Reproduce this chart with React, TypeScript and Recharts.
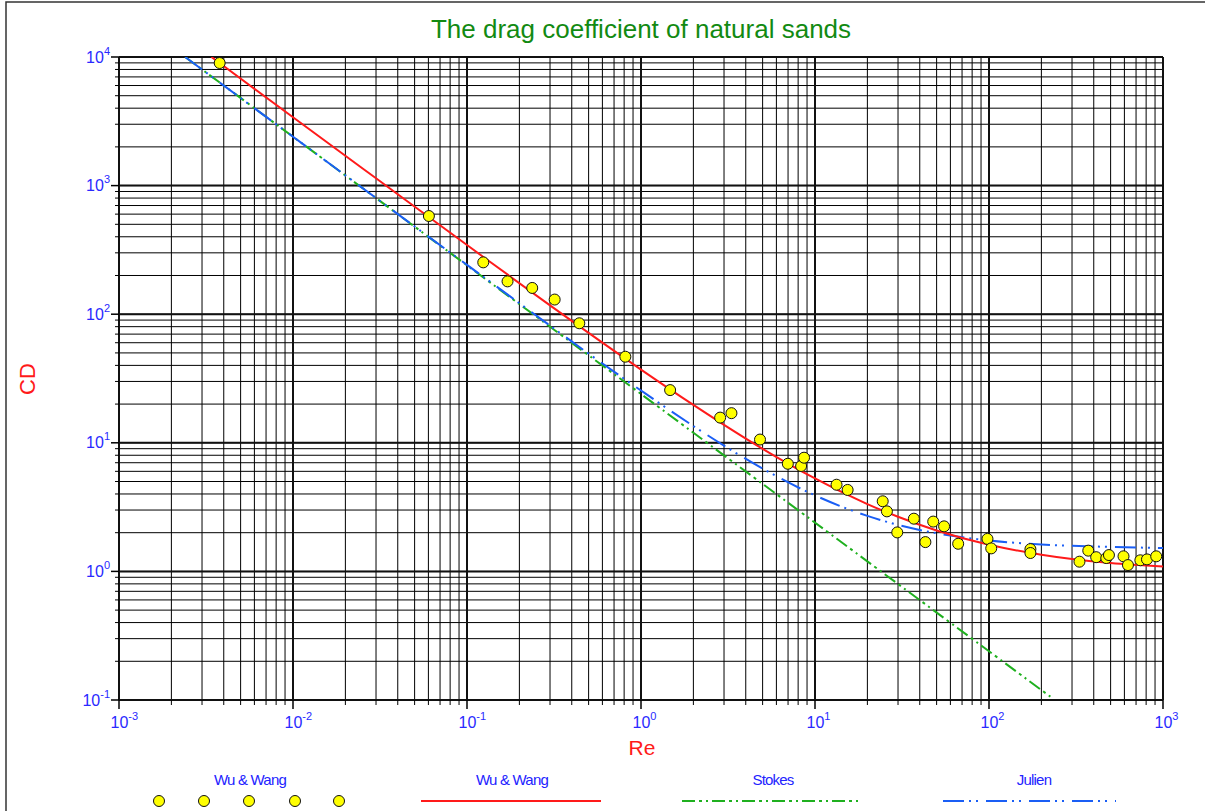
import {
  ComposedChart,
  Line,
  Scatter,
  XAxis,
  YAxis,
  CartesianGrid,
  ReferenceLine,
} from "recharts";

// measured points (Re, CD)
const measuredRe = [
  0.00379, 0.0604, 0.124, 0.171, 0.237, 0.319, 0.442, 0.813, 1.47, 2.85, 3.31,
  4.83, 6.98, 8.32, 8.65, 13.3, 15.4, 24.5, 25.9, 29.7, 37.0, 43.1, 47.8, 55.2,
  66.5, 98.0, 103, 173, 173, 331, 372, 413, 472, 489, 593, 629, 741, 809, 914,
];
const measuredCd = [
  8980, 580, 253, 180, 160, 130, 85, 46.7, 25.7, 15.7, 17.0, 10.6, 6.87, 6.6,
  7.66, 4.72, 4.3, 3.51, 2.93, 2.01, 2.57, 1.69, 2.44, 2.24, 1.64, 1.79, 1.51,
  1.49, 1.39, 1.19, 1.45, 1.29, 1.27, 1.34, 1.31, 1.12, 1.22, 1.24, 1.31,
];

// Wu & Wang curve
const wuRe = [0.0034, 0.01, 0.03, 0.1, 0.3, 1, 2, 3, 5, 10, 20, 30, 50, 100, 200, 300, 500, 1000];
const wuCd = [10000, 3400, 1140, 345, 117, 37.1, 19.7, 13.8, 8.98, 5.28, 3.34, 2.66, 2.08, 1.61, 1.35, 1.25, 1.16, 1.09];

// Stokes line
const stokesRe = [0.0024, 230];
const stokesCd = [10000, 0.104];

// Julien curve
const julienRe = [0.0024, 0.01, 0.1, 1, 2, 3, 5, 10, 20, 30, 50, 100, 200, 500, 1000];
const julienCd = [10000, 2400, 242, 25.5, 13.5, 9.5, 6.3, 3.9, 2.7, 2.3, 1.98, 1.74, 1.62, 1.55, 1.52];

const xDecades = [0.001, 0.01, 0.1, 1, 10, 100, 1000];
const yDecades = [0.1, 1, 10, 100, 1000, 10000];
const mantissas = [1, 2, 3, 4, 5, 6, 7, 8, 9];

const withMinors = (decades: number[]) =>
  decades
    .slice(0, -1)
    .flatMap((d) => mantissas.map((m) => m * d))
    .concat(decades[decades.length - 1]);

const xTicks = withMinors(xDecades);
const yTicks = withMinors(yDecades);

const zip = (re: number[], cd: number[]) => re.map((r, i) => ({ re: r, cd: cd[i] }));
const measured = zip(measuredRe, measuredCd);
const wuWang = zip(wuRe, wuCd);
const stokes = zip(stokesRe, stokesCd);
const julien = zip(julienRe, julienCd);

const FONT = "Arial, 'Liberation Sans', sans-serif";
const RED = "#ff1a1a";
const GREEN = "#1fb01f";
const BLUE = "#1a5ef5";
const TICK_BLUE = "#2a2aff";
const STOKES_DASH = "13 4 3 4 2 4";
const JULIEN_DASH = "21 5 2 5 2 8";

const isDecade = (v: number) => {
  const l = Math.log10(v);
  return Math.abs(l - Math.round(l)) < 1e-6;
};

const XTick = (props: any) => {
  const { x, y, payload } = props;
  const major = isDecade(payload.value);
  const exp = Math.round(Math.log10(payload.value));
  return (
    <g>
      <line x1={x} y1={y} x2={x} y2={y + (major ? 9 : 5)} stroke="#000" strokeWidth={major ? 1.5 : 1} />
      {major && (
        <text x={x - 8.5} y={y + 28} fill={TICK_BLUE} fontSize={16} fontFamily={FONT}>
          <tspan>10</tspan>
          <tspan dy={-8} fontSize={11}>{exp}</tspan>
        </text>
      )}
    </g>
  );
};

const YTick = (props: any) => {
  const { x, y, payload } = props;
  const major = isDecade(payload.value);
  const exp = Math.round(Math.log10(payload.value));
  return (
    <g>
      <line x1={x - (major ? 8 : 4)} y1={y} x2={x} y2={y} stroke="#000" strokeWidth={major ? 1.5 : 1} />
      {major && (
        <text x={x - 9} y={y + 5.5} textAnchor="end" fill={TICK_BLUE} fontSize={16} fontFamily={FONT}>
          <tspan>10</tspan>
          <tspan dy={-8} fontSize={11}>{exp}</tspan>
        </text>
      )}
    </g>
  );
};

const Dot = (props: any) => (
  <circle cx={props.cx} cy={props.cy} r={5.5} fill="#ffff00" stroke="#111" strokeWidth={1} />
);

const legendLabel = { fill: "#2323ff", fontSize: 15, fontFamily: FONT, letterSpacing: -0.8 } as const;

function Overlay() {
  return (
    <svg
      width={1205}
      height={811}
      style={{ position: "absolute", left: 0, top: 0, pointerEvents: "none" }}
    >
      <rect x={6} y={2} width={1300} height={900} fill="none" stroke="#333" strokeWidth={1.5} />
      <text x={641} y={38} textAnchor="middle" fill="#128a12" fontSize={26} fontFamily={FONT}>
        The drag coefficient of natural sands
      </text>
      <text
        x={0}
        y={0}
        transform="translate(35,379) rotate(-90)"
        textAnchor="middle"
        fill={RED}
        fontSize={22}
        fontFamily={FONT}
      >
        CD
      </text>
      <text x={642} y={755} textAnchor="middle" fill={RED} fontSize={21} fontFamily={FONT}>
        Re
      </text>

      {/* legend */}
      <text x={250} y={785} textAnchor="middle" {...legendLabel}>Wu &amp; Wang</text>
      {[159, 204, 249, 295, 339].map((cx) => (
        <circle key={cx} cx={cx} cy={801} r={5.5} fill="#ffff00" stroke="#111" strokeWidth={1} />
      ))}
      <text x={512} y={785} textAnchor="middle" {...legendLabel}>Wu &amp; Wang</text>
      <line x1={421} y1={801} x2={601} y2={801} stroke={RED} strokeWidth={2} />
      <text x={773} y={785} textAnchor="middle" {...legendLabel}>Stokes</text>
      <line x1={682} y1={801} x2={858} y2={801} stroke={GREEN} strokeWidth={2} strokeDasharray={STOKES_DASH} />
      <text x={1034} y={785} textAnchor="middle" {...legendLabel}>Julien</text>
      <line x1={943} y1={801} x2={1116} y2={801} stroke={BLUE} strokeWidth={2} strokeDasharray={JULIEN_DASH} />
    </svg>
  );
}

export default function App() {
  return (
    <div
      style={{
        position: "absolute",
        left: 0,
        top: 0,
        width: 1205,
        height: 811,
        background: "#fff",
        fontFamily: FONT,
        overflow: "hidden",
      }}
    >
      <ComposedChart width={1205} height={811} margin={{ top: 57, right: 42, bottom: 0, left: 0 }}>
        <CartesianGrid stroke="#000" strokeWidth={1} />
        <XAxis
          type="number"
          dataKey="re"
          scale="log"
          domain={[0.001, 1000]}
          ticks={xTicks}
          interval={0}
          height={111}
          tickSize={0}
          tickMargin={0}
          tickLine={false}
          axisLine={false}
          tick={<XTick />}
          allowDataOverflow
        />
        <YAxis
          type="number"
          dataKey="cd"
          scale="log"
          domain={[0.1, 10000]}
          ticks={yTicks}
          interval={0}
          width={119}
          tickSize={0}
          tickMargin={0}
          tickLine={false}
          axisLine={false}
          tick={<YTick />}
          allowDataOverflow
        />
        {xDecades.map((d) => (
          <ReferenceLine key={"x" + d} x={d} stroke="#111" strokeWidth={2} />
        ))}
        {yDecades.map((d) => (
          <ReferenceLine key={"y" + d} y={d} stroke="#111" strokeWidth={2} />
        ))}
        <Line
          data={stokes}
          dataKey="cd"
          type="linear"
          stroke={GREEN}
          strokeWidth={2}
          strokeDasharray={STOKES_DASH}
          dot={false}
          isAnimationActive={false}
        />
        <Line
          data={julien}
          dataKey="cd"
          type="monotone"
          stroke={BLUE}
          strokeWidth={2}
          strokeDasharray={JULIEN_DASH}
          dot={false}
          isAnimationActive={false}
        />
        <Line
          data={wuWang}
          dataKey="cd"
          type="monotone"
          stroke={RED}
          strokeWidth={2}
          dot={false}
          isAnimationActive={false}
        />
        <Scatter data={measured} dataKey="cd" shape={<Dot />} isAnimationActive={false} />
      </ComposedChart>
      <Overlay />
    </div>
  );
}
